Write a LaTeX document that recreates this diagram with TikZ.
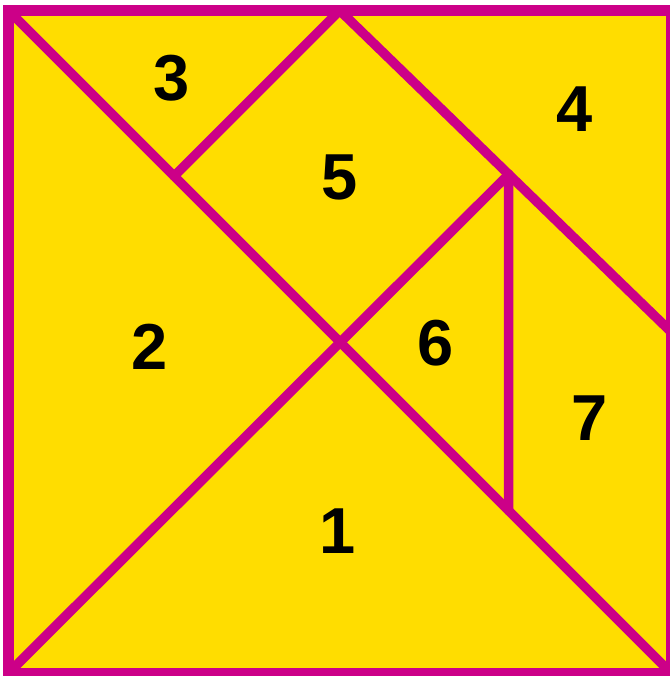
\documentclass[tikz,border=0pt]{standalone}
\usepackage{fontspec}
\setmainfont{Liberation Sans}
\usetikzlibrary{calc}
\usepackage{xcolor}
\definecolor{tanYellow}{RGB}{255,221,0}
\definecolor{tanMagenta}{RGB}{204,0,136}

\begin{document}
\begin{tikzpicture}[
    x=1pt, y=1pt,
    board/.style={fill=tanYellow},
    frame/.style={draw=tanMagenta, line width=11pt, line join=miter},
    cut/.style={draw=tanMagenta, line width=9.5pt, line cap=round, line join=round},
    piece/.style={font=\fontsize{65}{65}\selectfont\bfseries, inner sep=0pt}
]
\useasboundingbox (0,0) rectangle (669,-676);

% Corners and cut points
\coordinate (tl) at (8.5,-10.5);
\coordinate (br) at (671,-673);
\coordinate (tr) at (tl -| br);
\coordinate (bl) at (tl |- br);
\coordinate (tm) at ($(tl)!0.5!(tr)$);
\coordinate (rm) at ($(tr)!0.485!(br)$);
\coordinate (q) at ($(tl)!0.25!(br)$);
\coordinate (p) at ($(tm)!0.51!(rm)$);
\coordinate (r) at ($(tl)!0.755!(br)$);

% Board
\fill[board] (tl) rectangle (br);

% Cuts
\draw[cut] (tl) -- (br);
\draw[cut] (bl) -- (p);
\draw[cut] (tm) -- (rm);
\draw[cut] (tm) -- (q);
\draw[cut] (p) -- (r);

% Frame
\draw[frame] (tl) rectangle (br);

% Pieces
\node[piece] (one) at (338,-531) {1};
\node[piece] (two) at (150,-347) {2};
\node[piece] (three) at (172,-78) {3};
\node[piece] (four) at (575,-109) {4};
\node[piece] (five) at (340,-177) {5};
\node[piece] (six) at (436,-343) {6};
\node[piece] (seven) at (590,-418) {7};

\end{tikzpicture}
\end{document}
